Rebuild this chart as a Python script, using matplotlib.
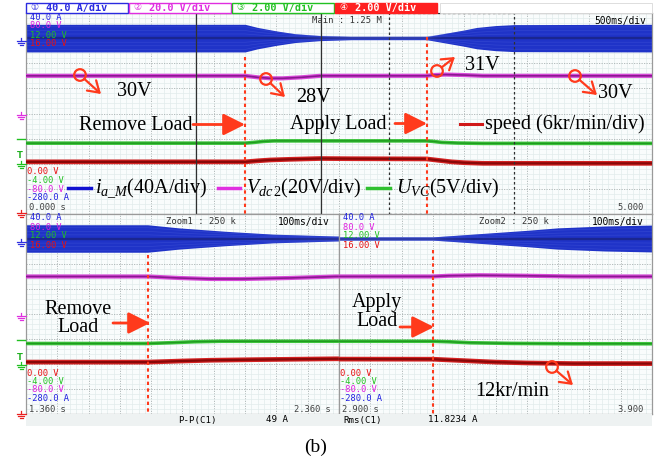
import numpy as np
import matplotlib
matplotlib.use('Agg')
import matplotlib.pyplot as plt
from matplotlib.patches import FancyArrowPatch, Circle, Rectangle, ArrowStyle

# ---------------- data ----------------
# current i_a_M envelope amplitude (A)
t_ia = [0, 1.75, 1.85, 2.0, 2.15, 2.35, 2.6, 3.2, 3.3, 3.4, 3.5, 3.6, 3.75, 3.9, 5.0]
ia_amp = [22, 22, 17, 11.5, 7, 4, 2.5, 2.5, 6, 9.5, 13, 17, 20, 21.5, 22]
# DC-link voltage Vdc2 (V)
t_vdc = [0, 1.75, 1.85, 1.95, 2.05, 2.2, 2.35, 3.2, 3.25, 3.35, 3.5, 3.65, 5.0]
vdc2 = [30, 30, 28.8, 28, 28, 28.8, 30, 30, 30.6, 31, 30.6, 30, 30]
# capacitor voltage U_VC (V)
t_uvc = [0, 1.75, 1.82, 1.9, 1.98, 3.2, 3.25, 3.32, 3.45, 3.65, 5.0]
uvc = [4.1, 4.1, 4.25, 4.45, 4.55, 4.55, 4.45, 4.25, 4.12, 4.05, 4.05]
# speed (kr/min)
t_spd = [0, 1.75, 1.85, 1.95, 2.1, 2.35, 2.6, 3.2, 3.3, 3.4, 3.5, 3.65, 5.0]
speed = [12.45, 12.45, 12.7, 12.9, 13.05, 13.25, 13.2, 13.15, 12.8, 12.45, 12.25, 12.1, 12.1]

t_remove, t_apply = 1.75, 3.2
main_window = (0.0, 5.0)
zoom_windows = [(1.36, 2.36), (2.9, 3.9)]

# channel scale (unit/div) and zero position (div from centre)
ch_scale = {'ia': 40.0, 'vdc': 20.0, 'uvc': 5.0, 'spd': 6.0}
ch_zero = {'ia': 3.0, 'vdc': 0.0, 'uvc': -2.0, 'spd': -4.0}

header_texts = ['40.0 A', '20.0 V', '2.00 V', '2.00 V']
top_labels = ['40.0 A', '80.0 V', '12.00 V', '16.00 V']
bottom_labels = ['0.00 V', '-4.00 V', '-80.0 V', '-280.0 A']
panel_start = ['0.000 s', '1.360 s', '2.900 s']
panel_end = ['5.000', '2.360 s', '3.900']
meas_labels = ['P-P(C1)', '49 A', 'Rms(C1)', '11.8234 A']

# ---------------- style ----------------
BLUE = '#1f33c8'
ORG = '#ff3a1c'
plt.rcParams['mathtext.fontset'] = 'custom'
plt.rcParams['mathtext.rm'] = 'Liberation Serif'
plt.rcParams['mathtext.it'] = 'Liberation Serif:italic'
SERIF = 'Liberation Serif'
MONO = 'DejaVu Sans Mono'

W, H = 657, 462
fig = plt.figure(figsize=(W / 100, H / 100), dpi=100, facecolor='white')


def frac(x0, y0, x1, y1):
    return [x0 / W, 1 - y1 / H, (x1 - x0) / W, (y1 - y0) / H]


def to_div(vals, ch):
    return np.asarray(vals, float) / ch_scale[ch] + ch_zero[ch]


def draw_panel(ax, x0, x1, nminor):
    ax.set_xlim(x0, x1)
    ax.set_ylim(-4, 4)
    ax.set_facecolor('#f9fcfc')
    ax.set_xticks(np.linspace(x0, x1, 11))
    ax.set_xticks(np.linspace(x0, x1, 10 * nminor + 1), minor=True)
    ax.set_yticks(np.arange(-4, 5, 1))
    ax.set_yticks(np.linspace(-4, 4, 41), minor=True)
    ax.grid(which='minor', color='#e2ebeb', lw=0.5)
    ax.grid(which='major', color='#a9b2b2', lw=0.6, ls=(0, (1.5, 1.5)))
    ax.tick_params(which='both', length=0, labelbottom=False, labelleft=False)
    for s in ax.spines.values():
        s.set_color('#9a9a9a')
        s.set_linewidth(0.9)
    ax.set_axisbelow(True)
    # current band
    amp = np.asarray(ia_amp) / ch_scale['ia']
    c = ch_zero['ia']
    ax.fill_between(t_ia, c - amp, c + amp, color=BLUE, lw=0, zorder=2)
    for f in (0.82, 0.55, 0.3):
        for sgn in (1, -1):
            ax.plot(t_ia, c + sgn * f * amp, color='#5466e0', lw=0.5, alpha=0.35, zorder=2.1)
    ax.plot(t_ia, [c] * len(t_ia), color='#1a2690', lw=1.7, zorder=2.05)
    # vdc2
    ax.plot(t_vdc, to_div(vdc2, 'vdc'), color='#d848d8', lw=3.0, zorder=3, solid_capstyle='butt')
    ax.plot(t_vdc, to_div(vdc2, 'vdc'), color='#8a1890', lw=1.2, zorder=3.1)
    # uvc
    ax.plot(t_uvc, to_div(uvc, 'uvc'), color='#3cc43c', lw=2.6, zorder=3)
    ax.plot(t_uvc, to_div(uvc, 'uvc'), color='#1e9a1e', lw=1.0, zorder=3.1)
    # speed
    ax.plot(t_spd, to_div(speed, 'spd'), color='#d42222', lw=3.4, zorder=3)
    ax.plot(t_spd, to_div(speed, 'spd'), color='#880808', lw=1.6, zorder=3.1)


# panels: top (main), zoom1, zoom2
ax_top = fig.add_axes(frac(26, 13, 652, 214))
draw_panel(ax_top, main_window[0], main_window[1], 10)
ax_z1 = fig.add_axes(frac(26, 214, 339, 414))
draw_panel(ax_z1, zoom_windows[0][0], zoom_windows[0][1], 5)
ax_z2 = fig.add_axes(frac(339, 214, 652, 414))
draw_panel(ax_z2, zoom_windows[1][0], zoom_windows[1][1], 5)

# zoom window rectangles in main panel
ax_top.add_patch(Rectangle((zoom_windows[0][0], -4), zoom_windows[0][1] - zoom_windows[0][0], 8,
                           fill=False, ec='#303030', lw=0.9, zorder=4))
ax_top.add_patch(Rectangle((zoom_windows[1][0], -4), zoom_windows[1][1] - zoom_windows[1][0], 8,
                           fill=False, ec='#303030', lw=0.9, ls=(0, (2, 2)), zorder=4))

# red dotted event markers
dot = dict(color=ORG, lw=1.5, ls=(0, (1.6, 1.6)), zorder=5)
ax_top.plot([t_remove, t_remove], [2.25, -4], **dot)
ax_top.plot([t_apply, t_apply], [3.05, -4], **dot)
ax_z1.plot([t_remove, t_remove], [2.35, -4], **dot)
ax_z2.plot([t_apply, t_apply], [2.55, -4], **dot)

# ---------------- overlay in pixel coordinates ----------------
ov = fig.add_axes([0, 0, 1, 1], zorder=20)
ov.set_xlim(0, W)
ov.set_ylim(H, 0)
ov.axis('off')
ov.patch.set_alpha(0)

# header boxes
hcols = ['#2a2ae0', '#e02ee0', '#22c022', '#ff2020']
nums = ['①', '②', '③', '④']
for i, (txt, col) in enumerate(zip(header_texts, hcols)):
    x0 = 26 + i * 103
    filled = (i == 3)
    ov.add_patch(Rectangle((x0, 2.5), 102, 10, fc=col if filled else 'white', ec=col, lw=1.0))
    tc = 'white' if filled else col
    ov.text(x0 + 4, 7.8, nums[i], color=tc, fontsize=6.5, va='center', ha='left',
            family=['DejaVu Sans', 'Noto Sans CJK SC'])
    ov.text(x0 + 20, 7.8, txt + '/div', color=tc, fontsize=7.3, va='center', ha='left',
            family=MONO, weight='bold')
ov.add_patch(Rectangle((440, 2.5), 212, 10, fc='white', ec='#d8d8d8', lw=0.6))

lab_cols = ['#2020e0', '#e020e0', '#20c020', '#e81010']
lab_cols_b = ['#e81010', '#20c020', '#e020e0', '#2020e0']
mono = dict(family=MONO, fontsize=6.3, va='center', ha='left')
# channel labels in each panel
for (px0, py0), st, en in zip([(26, 13), (26, 214), (339, 214)], panel_start, panel_end):
    for k, (t, c) in enumerate(zip(top_labels, lab_cols)):
        ov.text(px0 + 4, py0 + 4 + k * 9.0, t, color=c, **mono)
    for k, (t, c) in enumerate(zip(bottom_labels, lab_cols_b)):
        ov.text(px0 + 1, py0 + 159 + k * 8.5, t, color=c, **mono)
    ov.text(px0 + 3, py0 + 195, st, color='#404040', **mono)
    ov.text(px0 + 618 if px0 == 26 and py0 == 13 else px0 + 305, py0 + 195, en,
            color='#404040', family=MONO, fontsize=6.3, va='center', ha='right')

ov.text(312, 20.5, 'Main : 1.25 M', color='#333333', family=MONO, fontsize=6.4, va='center')
ov.text(646, 21, '500ms/div', color='black', family=MONO, fontsize=6.9, va='center', ha='right')
ov.text(166, 222, 'Zoom1 : 250 k', color='#333333', family=MONO, fontsize=6.4, va='center')
ov.text(330, 222, '100ms/div', color='black', family=MONO, fontsize=6.9, va='center', ha='right')
ov.text(479, 222, 'Zoom2 : 250 k', color='#333333', family=MONO, fontsize=6.4, va='center')
ov.text(644, 222, '100ms/div', color='black', family=MONO, fontsize=6.9, va='center', ha='right')

# measurement row
ov.add_patch(Rectangle((26, 414), 626, 12, fc='#eef2f2', ec='none', zorder=0))
for x, t in zip([178, 266, 343, 428], meas_labels):
    ov.text(x, 420, t, color='black', family=MONO, fontsize=6.6, va='center', ha='left')

ov.text(316, 447, '(b)', family=SERIF, fontsize=14, ha='center', va='center')


# ground markers on the left
def ground(x, y, c):
    ov.plot([x - 4.5, x + 4.5], [y, y], color=c, lw=0.9)
    ov.plot([x - 3, x + 3], [y + 2, y + 2], color=c, lw=0.9)
    ov.plot([x - 1.5, x + 1.5], [y + 4, y + 4], color=c, lw=0.9)
    ov.plot([x, x], [y - 3.5, y], color=c, lw=0.9)


for base in (0, 201):
    ground(21, 41 + base, '#3030e0')
    ground(21, 115 + base, '#e030e0')
    ov.plot([17, 25], [139 + base, 139 + base], color='#20c020', lw=1.0)
    ov.text(20, 156 + base, 'T', color='#20b020', fontsize=6.0, ha='center', va='center', weight='bold')
    ground(21, 164 + base, '#20c020')
ground(21, 213, '#e82020')
ground(21, 414, '#e82020')

# annotations
ann = dict(family=SERIF, fontsize=14.5, color='black', va='center')


def mark(cx, cy, tx, ty):
    ov.add_patch(Circle((cx, cy), 5.8, fill=False, ec=ORG, lw=1.6))
    d = np.array([tx - cx, ty - cy], float)
    d /= np.hypot(*d)
    sx, sy = cx + 5.8 * d[0], cy + 5.8 * d[1]
    ov.add_patch(FancyArrowPatch((sx, sy), (tx, ty), arrowstyle=ArrowStyle('->', head_length=0.7, head_width=0.45),
                                 mutation_scale=11, color=ORG, lw=1.6, shrinkA=0, shrinkB=0))


def big_arrow(x0, x1, y):
    ov.add_patch(FancyArrowPatch((x0, y), (x1, y), arrowstyle=ArrowStyle('-|>', head_length=1.1, head_width=0.55),
                                 mutation_scale=12, color=ORG, lw=2.0, shrinkA=0, shrinkB=0))


mark(80, 75, 101, 94)
ov.text(134, 91, '30V', ha='center', **ann)
mark(266, 79, 285, 97)
ov.text(313, 98, '28V', ha='center', **ann)
mark(437, 71, 455, 57)
ov.text(482, 65, '31V', ha='center', **ann)
mark(575, 76, 597, 95)
ov.text(615, 93, '30V', ha='center', **ann)
mark(552, 367, 573, 385)
ov.text(512, 392, '12kr/min', ha='center', **ann)

ov.text(136, 125, 'Remove Load', ha='center', **ann)
big_arrow(193, 245, 124.5)
ov.text(338, 124, 'Apply Load', ha='center', **ann)
big_arrow(395, 427, 123.5)
ov.plot([460, 482], [124, 124], color='#d01818', lw=2.2)
ov.text(485, 124, 'speed (6kr/min/div)', ha='left', **ann)

ov.plot([68, 91], [188, 188], color='#1010d0', lw=2.5)
ov.text(95, 188, r'$i_{a\_M}$(40A/div)', ha='left', **ann)
ov.plot([218, 240], [188, 188], color='#e030e0', lw=2.5)
ov.text(246, 188, r'$V_{dc\,2}$(20V/div)', ha='left', **ann)
ov.plot([367, 390], [188, 188], color='#30c030', lw=2.5)
ov.text(396, 188, r'$U_{VC}$(5V/div)', ha='left', **ann)

ov.text(78, 309, 'Remove', ha='center', **ann)
ov.text(78, 328, 'Load', ha='center', **ann)
big_arrow(113, 150, 323)
ov.text(377, 302, 'Apply', ha='center', **ann)
ov.text(377, 321, 'Load', ha='center', **ann)
big_arrow(400, 434, 327)

fig.savefig('out.png', dpi=100, facecolor='white')
